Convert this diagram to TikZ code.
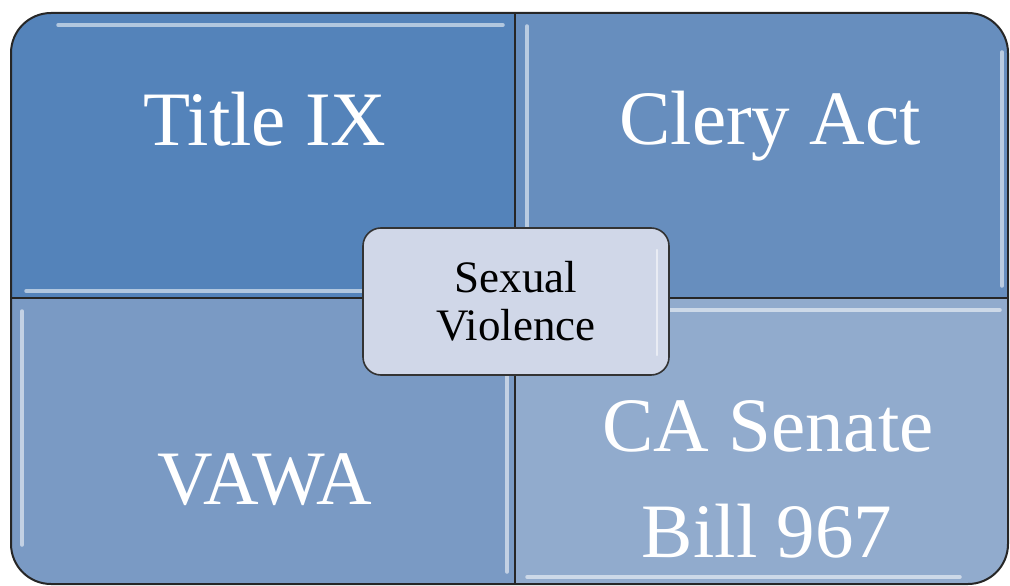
\documentclass[tikz,border=0pt]{standalone}
\usepackage{fontspec}
\setmainfont{Liberation Serif}
\usepackage{tikz}
\definecolor{quadTL}{RGB}{84,131,186}
\definecolor{quadTR}{RGB}{103,142,190}
\definecolor{quadBL}{RGB}{122,154,196}
\definecolor{quadBR}{RGB}{145,171,205}
\definecolor{coreFill}{RGB}{208,215,232}
\tikzset{every picture/.style={x=1pt,y=-1pt}}
\tikzset{
  quadtext/.style={text=white, font=\fontsize{77}{106}\selectfont, anchor=base, inner sep=0pt},
  gloss/.style={line width=3.5pt, color=white, opacity=0.55, line cap=round},
  edge/.style={line width=2pt, color=black!85},
  centerbox/.style={draw=black!80, line width=1.6pt, fill=coreFill, rounded corners=18pt,
    minimum width=306pt, minimum height=147pt, align=center, inner sep=0pt,
    font=\fontsize{45}{48}\selectfont}
}

\begin{document}
\begin{tikzpicture}
    \useasboundingbox (0,0) rectangle (1010,586);
    % the four quadrants
    \begin{scope}
      \clip[rounded corners=40pt] (11,13) rectangle (1008,584);
      \fill[quadTL] (11,13) rectangle (515,298);
      \fill[quadTR] (515,13) rectangle (1008,298);
      \fill[quadBL] (11,298) rectangle (515,584);
      \fill[quadBR] (515,298) rectangle (1008,584);
      % glossy edges
      \draw[gloss] (58,25) -- (503,25);
      \draw[gloss] (26,291) -- (503,291);
      \draw[gloss] (527,26) -- (527,286);
      \draw[gloss] (1002,52) -- (1002,286);
      \draw[gloss] (22,311) -- (22,545);
      \draw[gloss] (507,311) -- (507,572);
      \draw[gloss] (527,310) -- (1000,310);
      \draw[gloss] (527,577) -- (960,577);
    \end{scope}
    \draw[edge] (515,13) -- (515,584);
    \draw[edge] (11,298) -- (1008,298);
    \draw[edge, rounded corners=40pt] (11,13) rectangle (1008,584);
    % labels
    \node[quadtext] (title) at (265,145) {Title IX};
    \node[quadtext] (clery) at (770,144) {Clery Act};
    \node[quadtext] (vawa) at (265,504) {VAWA};
    \node[quadtext] (senate) at (768,451) {CA Senate};
    \node[quadtext] (bill) at (767,557) {Bill 967};
    % centre
    \node[centerbox] (core) at (516,301.5) {Sexual\\Violence};
    \draw[gloss, line width=2.5pt] (657,250) -- (657,355);
\end{tikzpicture}
\end{document}
